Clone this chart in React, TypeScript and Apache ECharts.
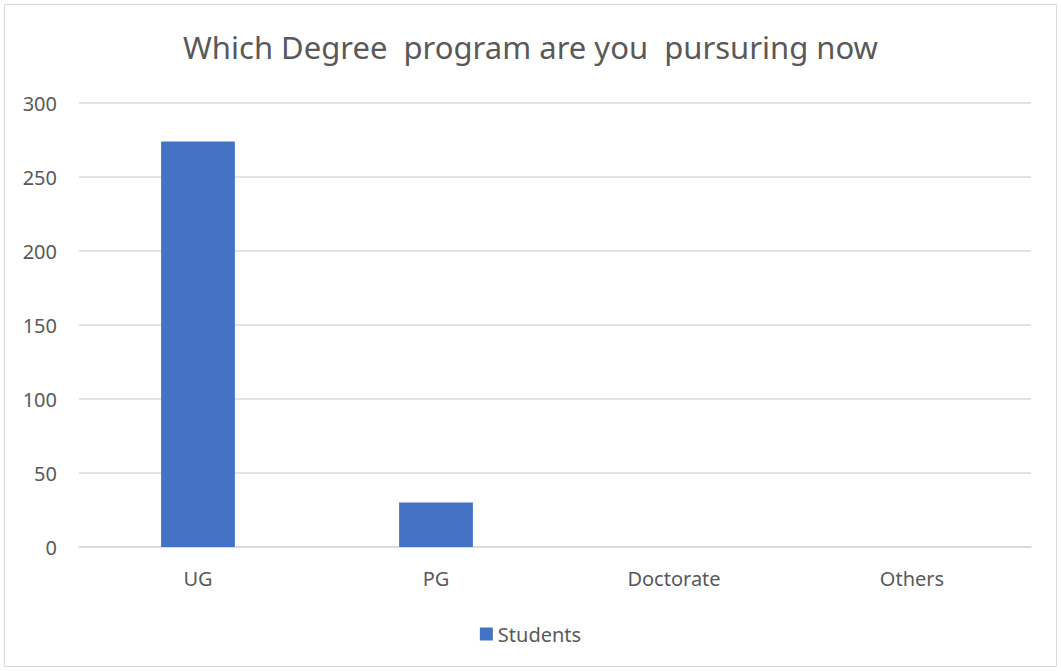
import React, { useEffect, useRef } from "react";
import * as echarts from "echarts";

const categories = ["UG", "PG", "Doctorate", "Others"];
const students = [274, 30, 0, 0];
const yTicks = [0, 50, 100, 150, 200, 250, 300];
const titleText = "Which Degree  program are you  pursuring now";
const seriesName = "Students";

export default function App() {
  const ref = useRef<HTMLDivElement>(null);
  useEffect(() => {
    document.body.style.margin = "0";
    const chart = echarts.init(ref.current!, null, { renderer: "svg" });
    const font = "'Noto Sans', 'Open Sans', sans-serif";
    chart.setOption({
      animation: false,
      backgroundColor: "#ffffff",
      textStyle: { fontFamily: font },
      title: {
        text: titleText,
        left: "center",
        top: 26,
        textStyle: { fontSize: 31, fontWeight: "normal", color: "#595959", fontFamily: font },
      },
      graphic: [
        {
          type: "rect",
          shape: { x: 4.5, y: 4.5, width: 1052, height: 662 },
          style: { fill: "none", stroke: "#d9d9d9", lineWidth: 1 },
          silent: true,
        },
      ],
      legend: {
        bottom: 22,
        left: "center",
        itemWidth: 13,
        itemHeight: 13,
        itemGap: 6,
        icon: "rect",
        textStyle: { fontSize: 20, color: "#595959", fontFamily: font },
        data: [seriesName],
      },
      grid: { left: 79, right: 30, top: 103, bottom: 124, containLabel: false },
      xAxis: {
        type: "category",
        data: categories,
        axisLine: { lineStyle: { color: "#d9d9d9", width: 1.5 } },
        axisTick: { show: false },
        axisLabel: { fontSize: 20, color: "#595959", margin: 21, fontFamily: font },
      },
      yAxis: {
        type: "value",
        min: yTicks[0],
        max: yTicks[yTicks.length - 1],
        interval: 50,
        axisLine: { show: false },
        axisTick: { show: false },
        splitLine: { lineStyle: { color: "#d9d9d9", width: 1.5 } },
        axisLabel: { fontSize: 20, color: "#595959", margin: 22, fontFamily: font },
      },
      series: [
        {
          name: seriesName,
          type: "bar",
          data: students,
          barWidth: "31%",
          itemStyle: { color: "#4472c4" },
        },
      ],
    });
    return () => chart.dispose();
  }, []);
  return <div ref={ref} style={{ width: 1061, height: 671 }} />;
}
